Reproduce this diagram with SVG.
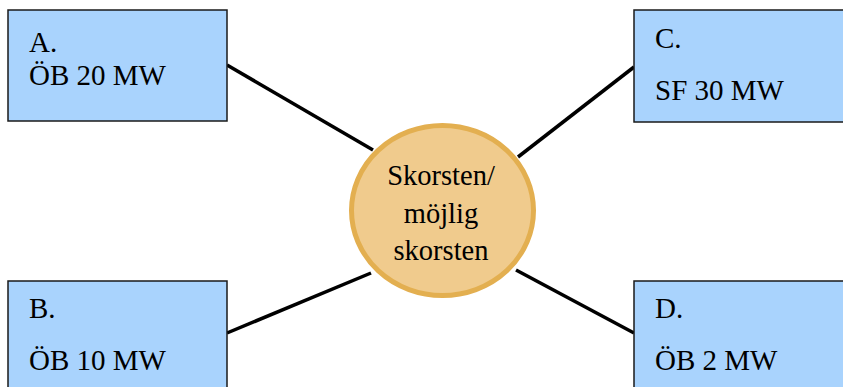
<svg xmlns="http://www.w3.org/2000/svg" width="843" height="387" viewBox="0 0 843 387">
<style>
.box{fill:#A9D3FD;stroke:#1a1a1a;stroke-width:1.5}
.t{font-family:"Liberation Serif","Times New Roman",serif;font-size:29px;fill:#000}
.c{font-family:"Liberation Serif","Times New Roman",serif;font-size:28.5px;fill:#000;text-anchor:middle}
.ln{stroke:#000;stroke-width:3.5;fill:none}
</style>
<rect width="843" height="387" fill="#fff"/>
<g id="connectors">
<line class="ln" x1="227" y1="65" x2="373" y2="150"/>
<line class="ln" x1="634" y1="67" x2="518" y2="157"/>
<line class="ln" x1="227" y1="333" x2="371" y2="273"/>
<line class="ln" x1="634" y1="333" x2="516" y2="270"/>
</g>
<g id="nodeA">
<rect class="box" x="8" y="10" width="219" height="111"/>
<text class="t" x="29" y="52">A.</text>
<text class="t" x="29" y="85">ÖB 20 MW</text>
</g>
<g id="nodeC">
<rect class="box" x="634" y="10" width="215" height="112"/>
<text class="t" x="655" y="48">C.</text>
<text class="t" x="655" y="100">SF 30 MW</text>
</g>
<g id="nodeB">
<rect class="box" x="8" y="281" width="219" height="112"/>
<text class="t" x="29" y="318">B.</text>
<text class="t" x="29" y="370">ÖB 10 MW</text>
</g>
<g id="nodeD">
<rect class="box" x="634" y="281" width="215" height="112"/>
<text class="t" x="655" y="318">D.</text>
<text class="t" x="655" y="370">ÖB 2 MW</text>
</g>
<g id="center">
<ellipse cx="442.5" cy="210.5" rx="91" ry="85" fill="#F0CB8D" stroke="#E3AF50" stroke-width="5"/>
<text class="c" x="441" y="185">Skorsten/</text>
<text class="c" x="441" y="223">möjlig</text>
<text class="c" x="441" y="260">skorsten</text>
</g>
</svg>
